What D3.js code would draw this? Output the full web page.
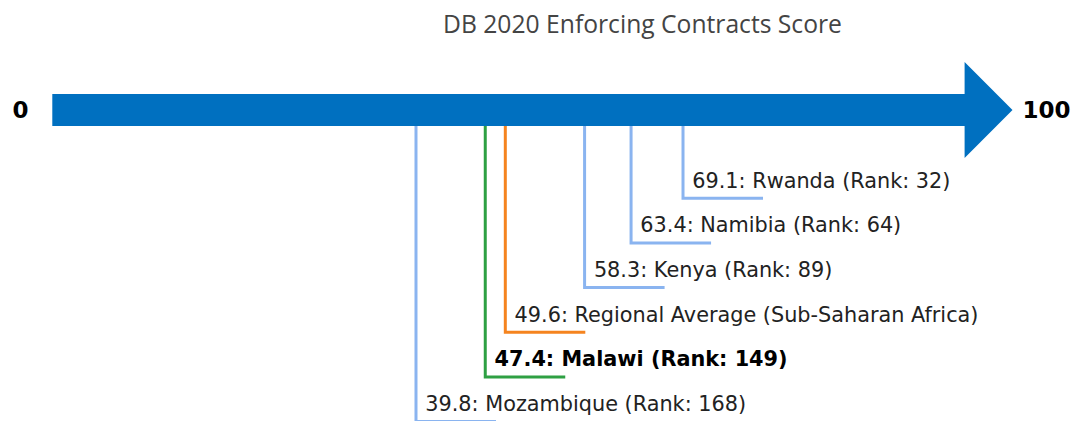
<!DOCTYPE html>
<html><head><meta charset="utf-8">
<script src="https://cdn.jsdelivr.net/npm/d3@7"></script>
<style>html,body{margin:0;padding:0;background:#fff;}svg{display:block;}</style>
</head><body>
<svg id="chart" width="1072" height="421"></svg>
<script>
const titleText = "DB 2020 Enforcing Contracts Score";
const names = ["Rwanda", "Namibia", "Kenya", "Regional Average (Sub-Saharan Africa)", "Malawi", "Mozambique"];
const scores = [69.1, 63.4, 58.3, 49.6, 47.4, 39.8];
const ranks = [32, 64, 89, null, 149, 168];
const kinds = ["peer", "peer", "peer", "regional", "focus", "peer"];
const axisLabels = ["0", "100"];
const domain = [0, 100];

const colors = {peer: "#8ab4f0", regional: "#f5841f", focus: "#2ea043"};
const svg = d3.select("#chart");
const x = d3.scaleLinear().domain(domain).range([53.3, 964.6]);
const y = d3.scaleLinear().domain([0, names.length - 1]).range([198.3, 421.6]);

const cy = 110, shaftH = 32, headH = 96, tip = 1012.5;

// title
const title = svg.append("text").attr("x", 642.5).attr("y", 33.3).attr("text-anchor", "middle")
  .attr("font-family", "'Open Sans', sans-serif").attr("font-size", 22).attr("fill", "#444")
  .text(titleText);
const tw = title.node().getComputedTextLength();
if (tw > 0) title.attr("font-size", 22 * 399 / tw);

const rows = names.map((n, i) => ({name: n, score: scores[i], rank: ranks[i], kind: kinds[i], i}));

// leader lines
svg.selectAll("path.leader").data(rows).join("path").attr("class", "leader")
  .attr("fill", "none").attr("stroke-width", 3)
  .attr("stroke", d => colors[d.kind])
  .attr("d", d => `M${x(d.score)},${cy} V${y(d.i)} H${x(d.score) + 80}`);

// arrow
const x0 = x(domain[0]) - 1, x1 = x(domain[1]);
svg.append("path").attr("fill", "#0070c0")
  .attr("d", `M${x0},${cy - shaftH/2} H${x1} V${cy - headH/2} L${tip},${cy} L${x1},${cy + headH/2} V${cy + shaftH/2} H${x0} Z`);

// end labels
svg.append("text").attr("x", 20.5).attr("y", 118.3).attr("text-anchor", "middle")
  .attr("font-family", "'DejaVu Sans', sans-serif").attr("font-weight", "bold").attr("font-size", 23).attr("fill", "#000")
  .text(axisLabels[0]);
svg.append("text").attr("x", 1022.5).attr("y", 118.3).attr("text-anchor", "start")
  .attr("font-family", "'DejaVu Sans', sans-serif").attr("font-weight", "bold").attr("font-size", 23).attr("fill", "#000")
  .text(axisLabels[1]);

// row labels
svg.selectAll("text.lbl").data(rows).join("text").attr("class", "lbl")
  .attr("x", d => x(d.score) + 9.3).attr("y", d => y(d.i) - 10.6)
  .attr("font-family", "'DejaVu Sans', sans-serif").attr("font-size", 20.8)
  .attr("font-weight", d => d.kind === "focus" ? "bold" : "normal")
  .attr("fill", d => d.kind === "focus" ? "#000" : "#222")
  .text(d => d.rank == null ? `${d.score.toFixed(1)}: ${d.name}` : `${d.score.toFixed(1)}: ${d.name} (Rank: ${d.rank})`);
</script>
</body></html>
